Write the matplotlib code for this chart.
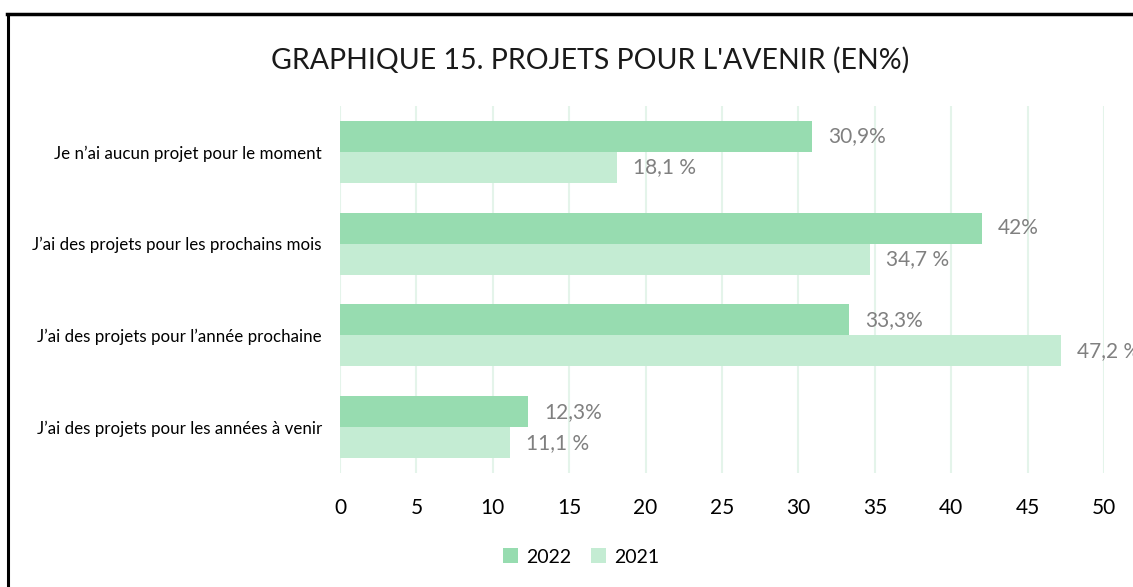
import numpy as np
import matplotlib.pyplot as plt
from matplotlib.lines import Line2D

plt.rcParams['font.family'] = ['Lato', 'DejaVu Sans']

categories = ["Je n’ai aucun projet pour le moment",
              "J’ai des projets pour les prochains mois",
              "J’ai des projets pour l’année prochaine",
              "J’ai des projets pour les années à venir"]
vals_2022 = [30.9, 42, 33.3, 12.3]
vals_2021 = [18.1, 34.7, 47.2, 11.1]
labels_2022 = ["30,9%", "42%", "33,3%", "12,3%"]
labels_2021 = ["18,1 %", "34,7 %", "47,2 %", "11,1 %"]

c2022 = '#97dcb0'
c2021 = '#c4ecd3'

fig = plt.figure(figsize=(11.33, 5.87), dpi=100)
ax = fig.add_axes([340 / 1133, 1 - 473 / 587, 764 / 1133, 367 / 587])

y = np.arange(len(categories))
h = 0.338
ax.barh(y - h / 2, vals_2022, height=h, color=c2022, label='2022', zorder=2)
ax.barh(y + h / 2, vals_2021, height=h, color=c2021, label='2021', zorder=2)

for i in range(len(categories)):
    ax.annotate(labels_2022[i], (vals_2022[i], y[i] - h / 2), xytext=(11.5, 0),
                textcoords='offset points', va='center', ha='left',
                fontsize=15, color='#808080', annotation_clip=False)
    ax.annotate(labels_2021[i], (vals_2021[i], y[i] + h / 2), xytext=(11.5, 0),
                textcoords='offset points', va='center', ha='left',
                fontsize=15, color='#808080', annotation_clip=False)

ax.set_xlim(0, 50)
ax.set_ylim(3.5, -0.5)
ax.set_xticks(range(0, 51, 5))
ax.set_yticks(y)
ax.set_yticklabels(categories, fontsize=12.2)
ax.tick_params(axis='x', labelsize=15, length=0, pad=18)
ax.tick_params(axis='y', length=0, pad=13)
ax.grid(axis='x', color='#e4f4ea', linewidth=1.5, zorder=0)
for s in ax.spines.values():
    s.set_visible(False)

fig.text(590 / 1133, 1 - 60 / 587, "GRAPHIQUE 15. PROJETS POUR L'AVENIR (EN%)",
         ha='center', va='center', fontsize=20.5, color='#1a1a1a')

fig.legend(loc='center', bbox_to_anchor=(581 / 1133, 1 - 557 / 587), ncol=2,
           frameon=False, fontsize=14, handlelength=0.8, handleheight=0.8,
           handletextpad=0.4, columnspacing=1.0)

# frame around chart
fig.add_artist(Line2D([8 / 1133, 8 / 1133], [0, 1 - 14 / 587], color='black', linewidth=2.2))
fig.add_artist(Line2D([7 / 1133, 1], [1 - 14 / 587, 1 - 14 / 587], color='black', linewidth=2.5))

fig.savefig('out.png', dpi=100)
